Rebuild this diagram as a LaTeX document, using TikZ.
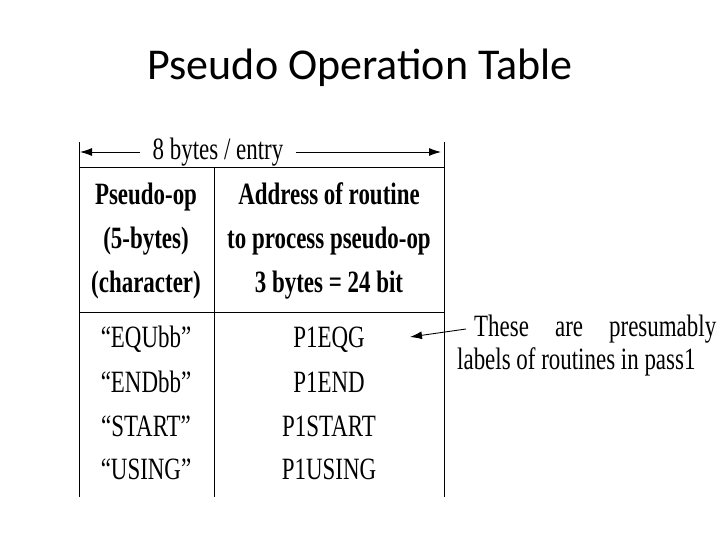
\documentclass[tikz,border=0pt]{standalone}
\usepackage{fontspec}
\usetikzlibrary{arrows.meta}
\setmainfont[FakeStretch=0.74]{Liberation Serif}
\newfontfamily\titlefont{Carlito}
\begin{document}
\begin{tikzpicture}[x=1pt,y=-1pt,
  cell/.style={inner sep=0pt,anchor=center,text height=21pt,text depth=6pt,font=\fontsize{31}{33}\selectfont},
  hcell/.style={cell,font=\fontsize{31}{33}\selectfont\bfseries},
  ann/.style={inner sep=0pt,anchor=west,font=\fontsize{31}{33}\selectfont},
  ln/.style={line width=0.9pt},
  tip/.style={-{Latex[length=12pt,width=8pt]}}]
\useasboundingbox (0,0) rectangle (720,540);
\node[font=\titlefont\fontsize{44}{48}\selectfont] (title) at (360,68) {Pseudo Operation Table};
\coordinate (tl) at (79,167); \coordinate (tr) at (444,167);
\coordinate (tm) at (214,167);
\coordinate (hl) at (79,312); \coordinate (hr) at (444,312);
\coordinate (bl) at (79,497); \coordinate (br) at (444,497); \coordinate (bm) at (214,497);
\coordinate (al) at (79,142); \coordinate (ar) at (444,142);
\draw[ln] (al) -- (bl); \draw[ln] (ar) -- (br);
\draw[ln] (tl) -- (tr); \draw[ln] (hl) -- (hr); \draw[ln] (tm) -- (bm);
\node[cell] (w) at (218,152) {8 bytes / entry};
\coordinate (wl) at (80,152); \coordinate (wr) at (441,152);
\draw[ln,tip] (w.west) ++(-12,0) -- (wl);
\draw[ln,tip] (w.east) ++(12,0) -- (wr);
\node[hcell] (h1) at (146,197) {Pseudo-op};
\node[hcell] (h2) at (146,241) {(5-bytes)};
\node[hcell] (h3) at (146,285) {(character)};
\node[hcell] (h4) at (329,197) {Address of routine};
\node[hcell] (h5) at (329,241) {to process pseudo-op};
\node[hcell] (h6) at (329,285) {3 bytes = 24 bit};
\node[cell] (a1) at (146,340) {“EQUbb”};
\node[cell] (a2) at (146,385) {“ENDbb”};
\node[cell] (a3) at (146,429) {“START”};
\node[cell] (a4) at (146,472) {“USING”};
\node[cell] (b1) at (329,340) {P1EQG};
\node[cell] (b2) at (329,385) {P1END};
\node[cell] (b3) at (329,429) {P1START};
\node[cell] (b4) at (329,472) {P1USING};
\node[ann,anchor=west] (n1) at (474,329) {\makebox[242pt][s]{These are presumably}};
\node[ann] (n2) at (457,362) {labels of routines in pass1};
\draw[ln,tip] (n1.west) ++(-8,0) -- (410,337);
\end{tikzpicture}
\end{document}
